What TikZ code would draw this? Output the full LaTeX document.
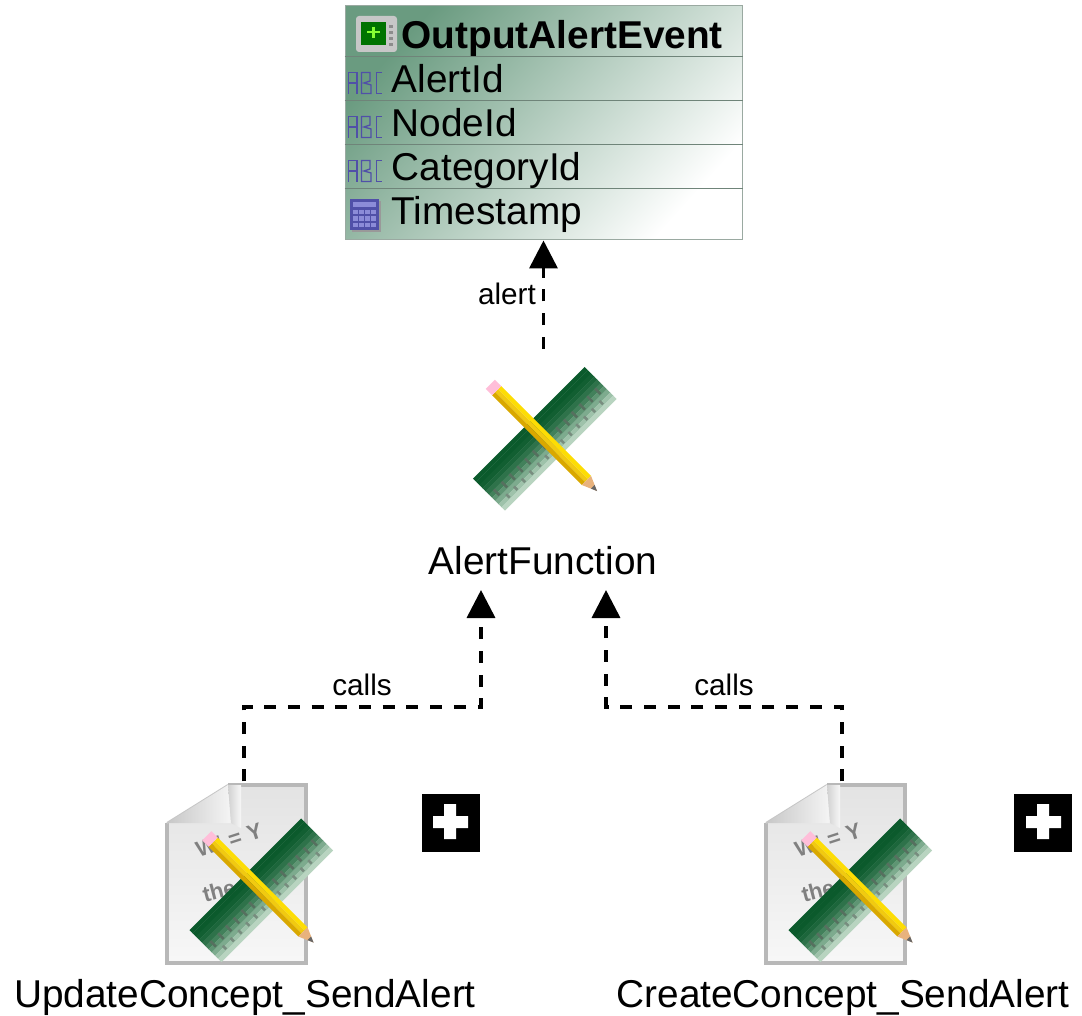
\documentclass[tikz,border=0pt]{standalone}
\usepackage{fontspec}
\setmainfont{Liberation Sans}
\usepackage{tikz}
\usetikzlibrary{arrows.meta}

\definecolor{rulerdark}{HTML}{0B5A2C}
\definecolor{rulerpale}{HTML}{B8D4C0}
\definecolor{tickgray}{HTML}{56705F}
\definecolor{abcblue}{HTML}{5050A8}
\definecolor{abcpale}{HTML}{8C8CD8}
\definecolor{boxdark}{HTML}{6A9B80}
\definecolor{rowline}{HTML}{6F8479}
\definecolor{pagegray}{HTML}{B8B8B8}

\tikzset{
  bigtext/.style={font=\fontsize{38.8}{42}\selectfont,inner sep=0pt},
  smalltext/.style={font=\fontsize{29.7}{32}\selectfont,inner sep=0pt},
  icontext/.style={text=black!50,font=\bfseries\fontsize{22}{24}\selectfont,inner sep=0pt},
  iconbox/.style={minimum width=180pt,minimum height=180pt,inner sep=0pt},
  depends/.style={line width=3.6pt,dash pattern=on 12pt off 11.7pt,
    -{Triangle[width=28pt,length=28pt]}},
  plusbox/.style={fill=black,minimum size=58pt,inner sep=0pt},
  rulerpencil/.pic={
    \begin{scope}[rotate=45]
      % ruler body, dark on the upper side and pale along the scale
      \foreach \b/\m in {-21.5/0,-17/0,-12.5/4,-8/10,-3.5/20,1/32,5.5/48,10/66,14.5/85,19/100}
        \fill[rulerpale!\m!rulerdark] (-79,\b) rectangle (79,\b+4.7);
      \foreach \t in {-72,-61,...,72}
        \draw[tickgray,line width=2.6pt] (\t,1) -- (\t,9);
      \foreach \t in {-66.5,-55.5,...,72}
        \draw[tickgray!80,line width=2.6pt] (\t,13) -- (\t,18);
    \end{scope}
    \begin{scope}[rotate=-45]
      \fill[yellow!80!orange] (-67,-6.5) rectangle (60,-2);
      \fill[yellow!70!orange!95!black] (-67,-2) rectangle (60,2);
      \fill[orange!45!yellow!85!black] (-67,2) rectangle (60,6.5);
      \fill[pink!85!magenta!70] (-76,-6.5) rectangle (-67,6.5);
      \fill[brown!60!orange!60] (60,-6.5) -- (60,6.5) -- (75,0) -- cycle;
      \fill[black!60] (69,-2.6) -- (69,2.6) -- (75,0) -- cycle;
    \end{scope}
  },
  docsheet/.pic={
    \shade[top color=black!11,bottom color=black!3]
      (-76,-50) -- (-15,-88) -- (63,-88) -- (63,90) -- (-76,90) -- cycle;
    \draw[pagegray,line width=3.6pt]
      (-15,-88) -- (63,-88) -- (63,90) -- (-76,90) -- (-76,-50);
    \draw[black!22,line width=2pt] (-76,-50) -- (-15,-88);
    \shade[left color=black!22,right color=black!4]
      (-76,-50) -- (-15,-88) -- (-12,-50) -- cycle;
    \shade[left color=black!18,right color=black!3] (-15,-88) -- (-2,-88) -- (-2,-45) -- (-12,-50) -- cycle;
    \node[icontext,rotate=18] (sheetLine) at (-14,-33) {W'\kern7pt=\kern7pt Y};
    \node[icontext,rotate=15] (sheetWord) at (-24,18) {the};
    \pic at (17.5,16.5) {rulerpencil};
  },
  abcicon/.pic={
    \begin{scope}[abcblue,line width=1.3pt,double=abcpale,double distance=2pt]
      \draw (1.5,23) -- (1.5,1.5) -- (10,1.5) -- (10,23) (1.5,12) -- (10,12);
      \draw (14.5,22.5) -- (14.5,1.5) -- (23,1.5) -- (23,10) -- (17,12) -- (24,14) -- (24,22.5) -- cycle;
      \draw (35,1.5) -- (29.5,1.5) -- (29.5,22.5) -- (35,22.5);
    \end{scope}
  },
  calcicon/.pic={
    \fill[black!40] (2,2) rectangle (31,33);
    \fill[abcblue] (0,0) rectangle (29,31);
    \fill[abcpale] (3,3) rectangle (26,8);
    \foreach \i in {0,1,2,3}
      \foreach \j in {0,1,2}
        \fill[abcpale] (3+\i*6,11+\j*6.5) rectangle (7.5+\i*6,15.5+\j*6.5);
  },
  scopeicon/.pic={
    \fill[black!22,rounded corners=3pt] (0,0) rectangle (41,36);
    \foreach \y in {9,15,21,27}
      \fill[black!45] (33,\y) rectangle (37,\y+3);
    \fill[green!45!black] (5,6) rectangle (30,29);
    \draw[green!60!yellow!80!white,line width=2.5pt] (17.5,11) -- (17.5,22) (11,16) -- (24,16);
  }
}

\begin{document}
\begin{tikzpicture}[x=1pt,y=-1pt]
  \useasboundingbox (0,0) rectangle (1082,1016);

  % the event table
  \node[draw=rowline!70,line width=1pt,minimum width=397pt,minimum height=234pt,inner sep=0pt,
    left color=boxdark,right color=white,shading angle=48] (eventBox) at (543.5,123) {};
  \foreach \y in {57,101,145,189}
    \draw[rowline,line width=1pt] (eventBox.west |- 0,\y) -- (eventBox.east |- 0,\y);

  \pic at (356,16) {scopeicon};
  \node[bigtext,anchor=base west,font=\fontsize{38.8}{42}\selectfont\bfseries] (eventName) at (401.5,49) {OutputAlertEvent};
  \pic at (347,71) {abcicon};
  \node[bigtext,anchor=base west] (alertId) at (391.5,93) {AlertId};
  \pic at (347,115) {abcicon};
  \node[bigtext,anchor=base west] (nodeId) at (391.5,137) {NodeId};
  \pic at (347,159) {abcicon};
  \node[bigtext,anchor=base west] (categoryId) at (391.5,181) {CategoryId};
  \pic at (350,199) {calcicon};
  \node[bigtext,anchor=base west] (timestamp) at (391.5,225) {Timestamp};

  % the function
  \node[iconbox] (funcIcon) at (543.5,439) {};
  \pic at (544,438) {rulerpencil};
  \node[bigtext,anchor=base] (alertFunc) at (543,574) {AlertFunction};

  % the two concepts
  \node[iconbox] (updIcon) at (244,871.6) {};
  \pic at (243,873) {docsheet};
  \node[bigtext,anchor=base] (updName) at (245,1007) {UpdateConcept\_SendAlert};
  \node[plusbox] (updPlus) at (450.5,822.5) {};
  \fill[white] (433,816) rectangle (468,828) (444,804) rectangle (456,839);

  \node[iconbox] (creIcon) at (842,871.6) {};
  \pic at (842,873) {docsheet};
  \node[bigtext,anchor=base] (creName) at (843,1007) {CreateConcept\_SendAlert};
  \node[plusbox] (crePlus) at (1043,822.5) {};
  \fill[white] (1026,816) rectangle (1061,828) (1037,804) rectangle (1049,839);

  % connectors
  \coordinate (updIn) at (481,590);
  \coordinate (creIn) at (606,590);
  \draw[depends] (funcIcon.north) -- (eventBox.south);
  \draw[depends] (updIcon.north) -- ++(0,-74.6) -| (updIn);
  \draw[depends] (creIcon.north) -- ++(0,-74.6) -| (creIn);
  \node[smalltext,anchor=base] (alertLabel) at (507,305) {alert};
  \node[smalltext,anchor=base] (updLabel) at (362,695) {calls};
  \node[smalltext,anchor=base] (creLabel) at (724,695) {calls};
\end{tikzpicture}
\end{document}
